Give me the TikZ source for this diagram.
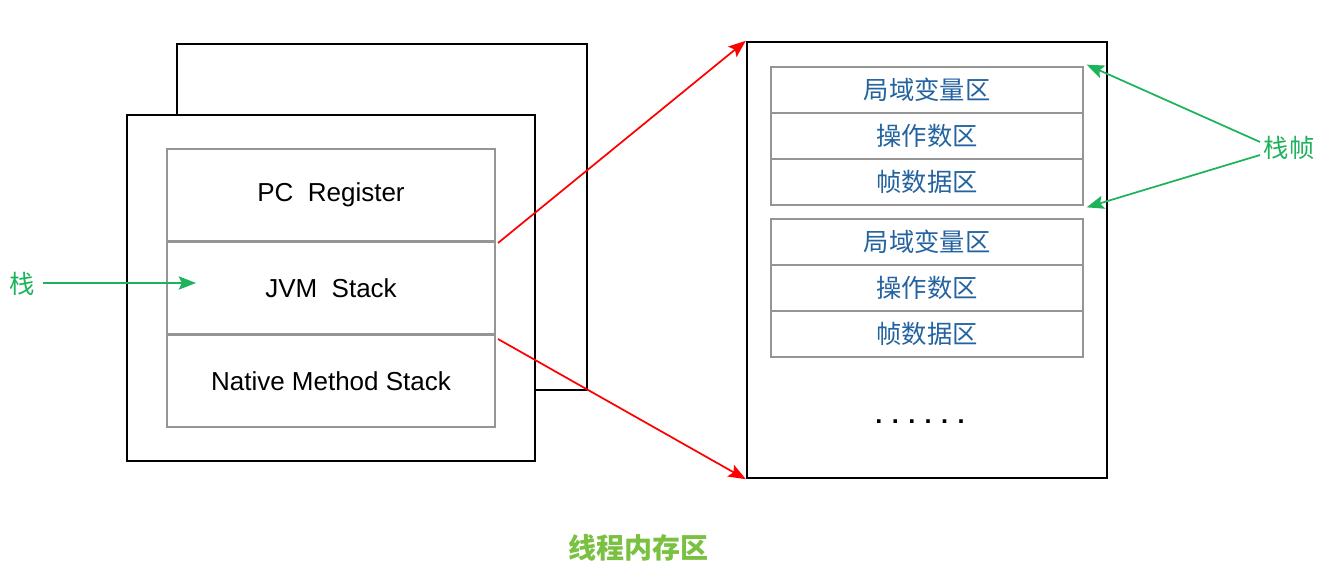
\documentclass[tikz,border=0pt]{standalone}
\usepackage{fontspec}
\setmainfont{Liberation Sans}
\newfontfamily\cjk{Noto Sans CJK SC}
\usetikzlibrary{arrows.meta}
\definecolor{gline}{HTML}{1DB35A}
\definecolor{tblue}{HTML}{2463A0}
\definecolor{tgreen}{HTML}{7AC142}
\definecolor{cellgray}{HTML}{959595}
\begin{document}
\begin{tikzpicture}[x=0.75pt,y=-0.75pt,
  outerbox/.style={draw=black,line width=1.8pt,fill=white},
  cellbox/.style={draw=cellgray,line width=1.5pt,fill=white,minimum width=246pt,minimum height=69.5pt,inner sep=0pt,font=\fontsize{19.5}{22}\selectfont},
  framebox/.style={draw=cellgray,line width=1.5pt,fill=white,minimum width=234pt,minimum height=34.5pt,inner sep=0pt,text=tblue,font=\cjk\fontsize{19}{22}\selectfont},
  redarrow/.style={draw=red,line width=1.3pt,-{Stealth[length=13pt,width=10pt,inset=2.5pt]}},
  greenarrow/.style={draw=gline,line width=1.3pt,-{Stealth[length=13pt,width=10pt,inset=2.5pt]}},
  glabel/.style={text=gline,font=\cjk\fontsize{19}{22}\selectfont,inner sep=1pt}]
\useasboundingbox (0,0) rectangle (1322,588);
% back and front thread boxes
\node[outerbox,minimum width=307.5pt,minimum height=259.5pt,inner sep=0pt] (back) at (382,217) {};
\node[outerbox,minimum width=306pt,minimum height=259.5pt,inner sep=0pt] (front) at (331,288) {};
% cells
\node[cellbox] (pc) at (331,195) {PC\ \ Register};
\node[cellbox] (jvm) at (331,288) {JVM\ \ Stack};
\node[cellbox] (native) at (331,381) {Native Method Stack};
% stack memory box
\node[outerbox,minimum width=270pt,minimum height=327pt,inner sep=0pt] (heap) at (927,260) {};
\node[framebox] (f1a) at (927,90) {局域变量区};
\node[framebox] (f1b) at (927,136) {操作数区};
\node[framebox] (f1c) at (927,182) {帧数据区};
\node[framebox] (f2a) at (927,242) {局域变量区};
\node[framebox] (f2b) at (927,288) {操作数区};
\node[framebox] (f2c) at (927,334) {帧数据区};
\node[font=\fontsize{19}{22}\selectfont\bfseries] (dots) at (920,422) {. . . . . .};
% labels
\node[glabel] (lzhan) at (22,284) {栈};
\node[glabel] (lframe) at (1289,148) {栈帧};
\node[text=tgreen,font=\cjk\bfseries\fontsize{21}{24}\selectfont] (title) at (638,548) {线程内存区};
% connectors
\coordinate (jin) at (196,283);
\coordinate (zs) at (43,283);
\draw[greenarrow] (zs) -- (jin);
\draw[greenarrow] (lframe.west) ++(-2,-6) -- ([xshift=2pt,yshift=1pt]f1a.north east);
\draw[greenarrow] (lframe.west) ++(-2,7) -- ([xshift=2pt,yshift=-1pt]f1c.south east);
\coordinate (r1) at (498,243);
\coordinate (r2) at (498,339);
\draw[redarrow] (r1) -- (heap.north west);
\draw[redarrow] (r2) -- (heap.south west);
\end{tikzpicture}
\end{document}
